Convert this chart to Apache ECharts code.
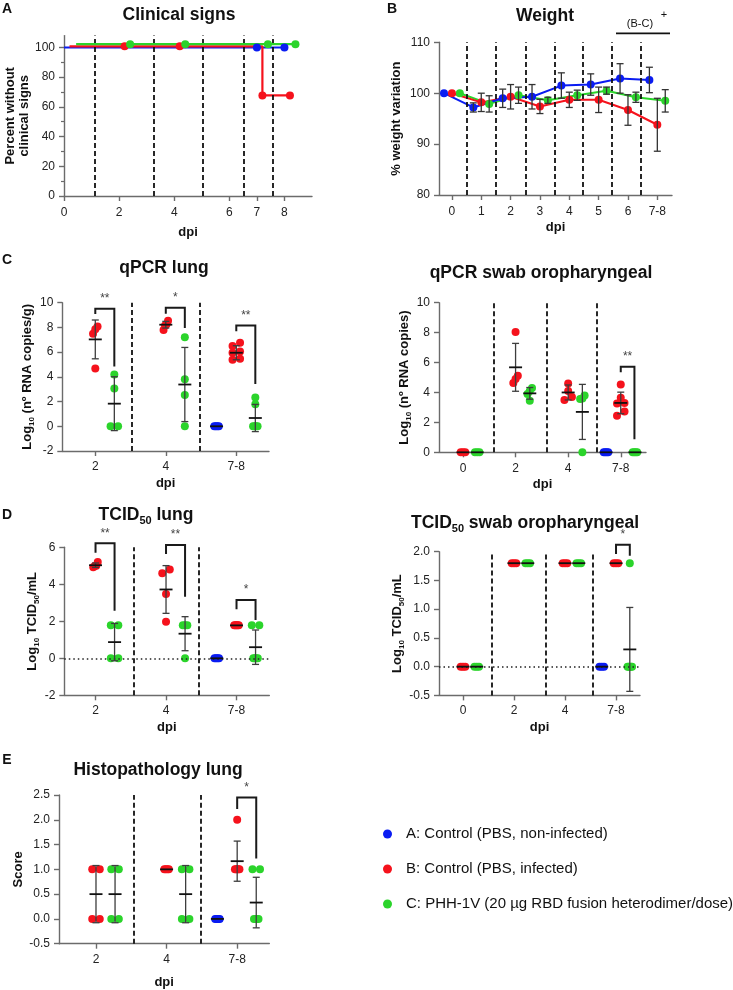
<!DOCTYPE html>
<html>
<head>
<meta charset="utf-8">
<script src="https://cdn.jsdelivr.net/npm/echarts@6/dist/echarts.min.js"></script>
<style>html,body{margin:0;padding:0;background:#fff}#c{width:733px;height:990px}</style>
</head>
<body>
<div id="c"></div>
<script>
// ================= DATA =================
const GROUP_NAMES = ['A: Control (PBS, non-infected)', 'B: Control (PBS, infected)', 'C: PHH-1V (20 µg RBD fusion heterodimer/dose)'];

// ---- Panel A: clinical signs (Kaplan-Meier style)
const clinicalTicks = [0, 2, 4, 6, 7, 8];
const clinicalYTicks = [0, 20, 40, 60, 80, 100];
const clinicalYMinor = [10, 30, 50, 70, 90];
const clinicalSeparators = [1.11, 3.26, 5.04, 6.54, 7.59];
const clinicalCurveA = [[0, 100], [7, 100], [8, 100]];
const clinicalCurveB = [[0.2, 100.8], [7.2, 100.8], [7.2, 67.7], [8.2, 67.7]];
const clinicalCurveC = [[0.44, 102.2], [8.44, 102.2]];
const clinicalDotsA = [[7, 100], [8, 100]];
const clinicalDotsB = [[2.2, 100.8], [4.2, 100.8], [7.2, 67.7], [8.2, 67.7]];
const clinicalDotsC = [[2.4, 102.2], [4.4, 102.2], [7.4, 102.2], [8.4, 102.2]];

// ---- Panel B: weight
const weightDays = ['0', '1', '2', '3', '4', '5', '6', '7-8'];
const weightSeparators = [0.5, 1.5, 2.5, 3.5, 4.47, 5.45, 6.43];
const weightA = [100, 97.2, 99.0, 99.3, 101.5, 101.7, 102.9, 102.6];
const weightSdA = [0, 0.9, 1.8, 2.4, 2.5, 2.1, 2.9, 2.5];
const weightB = [100, 98.2, 99.3, 97.4, 98.7, 98.7, 96.7, 93.8];
const weightSdB = [0, 1.8, 2.4, 1.4, 1.5, 2.5, 3.0, 5.2];
const weightC = [100, 97.9, 99.6, 98.6, 99.6, 100.5, 99.2, 98.5];
const weightSdC = [0, 1.6, 1.6, 0.6, 1.0, 0.7, 1.0, 2.2];

// ---- Panel C left: qPCR lung
const lungDays = ['2', '4', '7-8'];
const qpcrLungA = [[], [], [0, 0, 0, 0]];
const qpcrLungB = [[7.86, 8.08, 7.49, 4.68], [8.54, 8.25, 8.15, 7.8], [6.5, 6.76, 6.05, 5.95, 5.38, 5.46]];
const qpcrLungC = [[4.2, 3.05, 0, 0], [7.2, 3.8, 2.54, 0], [2.32, 1.78, 0, 0, 0, 0]];
const qpcrLungMeanA = [null, null, 0];
const qpcrLungSdA = [0, 0, 0];
const qpcrLungMeanB = [7.03, 8.22, 5.95];
const qpcrLungSdB = [1.57, 0.27, 0.57];
const qpcrLungMeanC = [1.83, 3.38, 0.67];
const qpcrLungSdC = [2.18, 3.0, 1.1];
const qpcrLungSeparators = [0.52, 1.475];
const qpcrLungBrackets = [[0, 0.27, 9.51, 9.08, 4.84], [1, 1.27, 9.6, 9.1, 7.95], [2, 2.27, 8.16, 7.68, 3.43]];
const qpcrLungStars = ['**', '*', '**'];

// ---- Panel C right: qPCR swab oropharyngeal
const swabDays = ['0', '2', '4', '7-8'];
const qpcrSwabA = [[], [], [], [0, 0, 0, 0]];
const qpcrSwabB = [[0, 0, 0], [8.04, 5.12, 4.9, 4.63], [4.6, 4.1, 3.7, 3.5], [4.54, 3.65, 3.3, 3.27, 2.72, 2.45]];
const qpcrSwabC = [[0, 0, 0], [4.3, 4.1, 3.9, 3.45], [3.79, 3.6, 3.56, 0], [0, 0, 0, 0]];
const qpcrSwabMeanA = [null, null, null, 0];
const qpcrSwabSdA = [0, 0, 0, 0];
const qpcrSwabMeanB = [0, 5.68, 4.0, 3.3];
const qpcrSwabSdB = [0, 1.6, 0.5, 0.72];
const qpcrSwabMeanC = [0, 3.94, 2.7, 0];
const qpcrSwabSdC = [0, 0.39, 1.84, 0];
const qpcrSwabSeparators = [0.58, 1.6, 2.54];
const qpcrSwabBrackets = [[3, 3.26, 5.72, 5.35, 0.87]];
const qpcrSwabStars = ['**'];

// ---- Panel D left: TCID50 lung
const tcidLungA = [[], [], [0, 0, 0, 0]];
const tcidLungB = [[4.92, 5.2, 4.99, 5.0], [4.6, 4.8, 3.48, 1.98], [1.78, 1.78, 1.78, 1.78, 1.78]];
const tcidLungC = [[1.78, 1.78, 0, 0], [1.78, 1.78, 1.78, 0], [1.78, 1.78, 0, 0, 0, 0]];
const tcidLungMeanA = [null, null, 0];
const tcidLungSdA = [0, 0, 0];
const tcidLungMeanB = [5.03, 3.72, 1.78];
const tcidLungSdB = [0.12, 1.29, 0];
const tcidLungMeanC = [0.875, 1.33, 0.6];
const tcidLungSdC = [1.01, 0.92, 0.93];
const tcidLungSeparators = [0.536, 1.47];
const tcidLungBrackets = [[0, 0.27, 6.22, 5.71, 2.57], [1, 1.27, 6.12, 5.64, 3.33], [2, 2.27, 3.15, 2.65, 2.07]];
const tcidLungStars = ['**', '**', '*'];

// ---- Panel D right: TCID50 swab oropharyngeal
const tcidSwabA = [[], [], [], [0, 0, 0]];
const tcidSwabB = [[0, 0, 0], [1.8, 1.8, 1.8], [1.8, 1.8, 1.8], [1.8, 1.8, 1.8]];
const tcidSwabC = [[0, 0, 0], [1.8, 1.8, 1.8], [1.8, 1.8, 1.8], [1.8, 0, 0, 0, 0, 0]];
const tcidSwabMeanA = [null, null, null, 0];
const tcidSwabSdA = [0, 0, 0, 0];
const tcidSwabMeanB = [0, 1.8, 1.8, 1.8];
const tcidSwabSdB = [0, 0, 0, 0];
const tcidSwabMeanC = [0, 1.8, 1.8, 0.3];
const tcidSwabSdC = [0, 0, 0, 0.73];
const tcidSwabSeparators = [0.563, 1.627, 2.55];
const tcidSwabBrackets = [[3, 3.27, 2.12, 1.96, 1.93]];
const tcidSwabStars = ['*'];

// ---- Panel E: histopathology lung
const histoA = [[], [], [0, 0, 0, 0]];
const histoB = [[1, 1, 0, 0], [1, 1, 1, 1], [2, 1, 1, 1, 1, 1]];
const histoC = [[1, 1, 0, 0], [1, 1, 0, 0], [1, 1, 0, 0, 0, 0]];
const histoMeanA = [null, null, 0];
const histoSdA = [0, 0, 0];
const histoMeanB = [0.5, 1, 1.165];
const histoSdB = [0.577, 0, 0.405];
const histoMeanC = [0.5, 0.5, 0.33];
const histoSdC = [0.577, 0.577, 0.51];
const histoSeparators = [0.534, 1.483];
const histoBrackets = [[2, 2.27, 2.45, 2.22, 1.22]];
const histoStars = ['*'];

// ================= STYLE / LAYOUT =================
const FONT = '"Liberation Sans", Arial, Helvetica, sans-serif';
const GROUP_COLORS = ['#0a1cf2', '#f5121c', '#2bd42b'];
const GROUP_OFFSETS = [-0.28, 0, 0.27];
const AXIS_COLOR = '#6b6b6b';
const INK = '#111';

const GRIDS = [
  { left: 64, top: 35.6, width: 248, height: 160.4 },     // A
  { left: 439, top: 42.3, width: 233, height: 152.7 },    // B
  { left: 62.3, top: 302.7, width: 206.7, height: 148.3 },// C left
  { left: 439, top: 302.7, width: 207, height: 149.6 },   // C right
  { left: 64.3, top: 547.3, width: 205, height: 148 },    // D left
  { left: 439, top: 551.7, width: 201, height: 143.7 },   // D right
  { left: 59, top: 795, width: 210.3, height: 148.7 }     // E
];
const X_RANGES = [[0, 9], [-0.44, 7.5], [-0.468, 2.464], [-0.456, 3.48], [-0.443, 2.465], [-0.47, 3.47], [-0.524, 2.455]];
const Y_RANGES = [[0, 108], [80, 110], [-2, 10], [0, 10], [-2, 6], [-0.5, 2], [-0.5, 2.5]];

function ticksFrom(min, max, step) {
  const out = [];
  for (let v = min; v <= max + 1e-9; v += step) out.push(Math.round(v * 1000) / 1000);
  return out;
}
function idx(n) { const a = []; for (let i = 0; i < n; i++) a.push(i); return a; }

const subRich = {
  b: { fontFamily: FONT, fontWeight: 'bold', fontSize: 13, lineHeight: 17, color: INK },
  s: { fontFamily: FONT, fontWeight: 'bold', fontSize: 8, lineHeight: 8, verticalAlign: 'bottom', color: INK }
};

function makeX(gi, tickVals, labelFn, nameGap, margin) {
  return {
    type: 'value', gridIndex: gi, min: X_RANGES[gi][0], max: X_RANGES[gi][1],
    name: 'dpi', nameLocation: 'middle', nameGap: nameGap,
    nameTextStyle: { fontFamily: FONT, fontWeight: 'bold', fontSize: 13, color: INK },
    axisLine: { show: true, onZero: false, lineStyle: { color: AXIS_COLOR, width: 1.4 } },
    axisTick: { show: true, length: 5, customValues: tickVals, lineStyle: { color: AXIS_COLOR, width: 1.4 } },
    axisLabel: { customValues: tickVals, formatter: labelFn, margin: margin, fontFamily: FONT, fontSize: 12, color: '#222' },
    splitLine: { show: false }
  };
}
function makeY(gi, tickVals, fmt, name, nameGap, rich) {
  return {
    type: 'value', gridIndex: gi, position: 'left', min: Y_RANGES[gi][0], max: Y_RANGES[gi][1],
    name: name, nameLocation: 'middle', nameGap: nameGap,
    nameTextStyle: rich ? { rich: subRich } : { fontFamily: FONT, fontWeight: 'bold', fontSize: 13, lineHeight: 14, color: INK },
    axisLine: { show: true, onZero: false, lineStyle: { color: AXIS_COLOR, width: 1.4 } },
    axisTick: { show: true, length: 5, customValues: tickVals, lineStyle: { color: AXIS_COLOR, width: 1.4 } },
    axisLabel: { customValues: tickVals, formatter: fmt, margin: 9, fontFamily: FONT, fontSize: 12, color: '#222' },
    splitLine: { show: false }
  };
}

const xAxes = [
  makeX(0, clinicalTicks, v => String(v), 30, 11),
  makeX(1, idx(weightDays.length), v => weightDays[Math.round(v)], 26, 11),
  makeX(2, idx(lungDays.length), v => lungDays[Math.round(v)], 26, 10),
  makeX(3, idx(swabDays.length), v => swabDays[Math.round(v)], 26, 10),
  makeX(4, idx(lungDays.length), v => lungDays[Math.round(v)], 26, 9),
  makeX(5, idx(swabDays.length), v => swabDays[Math.round(v)], 26, 9),
  makeX(6, idx(lungDays.length), v => lungDays[Math.round(v)], 32, 10)
];
const fix1 = v => v.toFixed(1);
const yAxes = [
  makeY(0, clinicalYTicks, v => String(v), 'Percent without\nclinical signs', 31, false),
  makeY(1, ticksFrom(80, 110, 10), v => String(v), '% weight variation', 36, false),
  makeY(2, ticksFrom(-2, 10, 2), v => String(v), '{b|Log}{s|10}{b| (nº RNA copies/g)}', 24, true),
  makeY(3, ticksFrom(0, 10, 2), v => String(v), '{b|Log}{s|10}{b| (nº RNA copies)}', 22, true),
  makeY(4, ticksFrom(-2, 6, 2), v => String(v), '{b|Log}{s|10}{b| TCID}{s|50}{b|/mL}', 22, true),
  makeY(5, ticksFrom(-0.5, 2, 0.5), fix1, '{b|Log}{s|10}{b| TCID}{s|50}{b|/mL}', 32, true),
  makeY(6, ticksFrom(-0.5, 2.5, 0.5), fix1, 'Score', 30, false),
  // minor ticks for panel A
  {
    type: 'value', gridIndex: 0, position: 'left', offset: 0, min: 0, max: 108,
    axisLine: { show: false, onZero: false }, axisLabel: { show: false }, splitLine: { show: false },
    axisTick: { show: true, length: 3, customValues: clinicalYMinor, lineStyle: { color: AXIS_COLOR, width: 1.2 } }
  }
];

// ================= RENDERERS =================
function renderMeanSD(params, api) {
  const x = api.value(0), m = api.value(1), sd = api.value(2);
  const c = api.coord([x, m]);
  const kids = [];
  if (sd > 0) {
    const t = api.coord([x, m + sd]), b = api.coord([x, m - sd]);
    const st = { stroke: '#3d3d3d', lineWidth: 1.3 };
    kids.push({ type: 'line', shape: { x1: c[0], y1: t[1], x2: c[0], y2: b[1] }, style: st });
    kids.push({ type: 'line', shape: { x1: c[0] - 3.5, y1: t[1], x2: c[0] + 3.5, y2: t[1] }, style: st });
    kids.push({ type: 'line', shape: { x1: c[0] - 3.5, y1: b[1], x2: c[0] + 3.5, y2: b[1] }, style: st });
  }
  kids.push({ type: 'line', shape: { x1: c[0] - 6.5, y1: c[1], x2: c[0] + 6.5, y2: c[1] }, style: { stroke: '#111', lineWidth: 1.8 } });
  return { type: 'group', children: kids };
}
function renderErrBar(params, api) {
  const x = api.value(0), m = api.value(1), sd = api.value(2);
  if (!(sd > 0)) return { type: 'group', children: [] };
  const c = api.coord([x, m]);
  const t = api.coord([x, m + sd]), b = api.coord([x, m - sd]);
  const st = { stroke: '#333', lineWidth: 1.3 };
  return { type: 'group', children: [
    { type: 'line', shape: { x1: c[0], y1: t[1], x2: c[0], y2: b[1] }, style: st },
    { type: 'line', shape: { x1: c[0] - 3.5, y1: t[1], x2: c[0] + 3.5, y2: t[1] }, style: st },
    { type: 'line', shape: { x1: c[0] - 3.5, y1: b[1], x2: c[0] + 3.5, y2: b[1] }, style: st }
  ] };
}
function makeBracketRender(labels) {
  return function (params, api) {
    const x1 = api.value(0), x2 = api.value(1), yt = api.value(2), yl = api.value(3), yr = api.value(4);
    const a = api.coord([x1, yl]), b = api.coord([x1, yt]), c = api.coord([x2, yt]), d = api.coord([x2, yr]);
    return { type: 'group', children: [
      { type: 'polyline', shape: { points: [a, b, c, d] }, style: { stroke: '#1a1a1a', lineWidth: 2, fill: null } },
      { type: 'text', x: (b[0] + c[0]) / 2, y: b[1] - 4,
        style: { text: labels[params.dataIndex], font: '12px ' + FONT, fill: '#444',
                 textAlign: 'center', textVerticalAlign: 'bottom', align: 'center', verticalAlign: 'bottom' } }
    ] };
  };
}

function spreadPoints(vals, center, pxX, pxY) {
  const sorted = vals.slice().sort((a, b) => a - b);
  const clusters = [];
  sorted.forEach(v => {
    const last = clusters[clusters.length - 1];
    if (last && Math.abs(v - last[last.length - 1]) * pxY < 5) last.push(v); else clusters.push([v]);
  });
  const out = [];
  clusters.forEach(cl => {
    const n = cl.length;
    const span = n === 1 ? 0 : (n === 2 ? 7.5 : 4.5);
    cl.forEach((v, k) => {
      const dx = n === 1 ? 0 : (k / (n - 1) - 0.5) * span;
      out.push([center + dx / pxX, v]);
    });
  });
  return out;
}

function sepLine(gi, seps, zeroLine) {
  const data = seps.map(x => ({ xAxis: x, lineStyle: { type: [5, 3], color: '#111', width: 1.8 } }));
  if (zeroLine) data.push({ yAxis: 0, lineStyle: { type: [1.5, 3], color: '#222', width: 1.5 } });
  return {
    type: 'line', xAxisIndex: gi, yAxisIndex: gi, data: [], silent: true, z: 1,
    markLine: { silent: true, symbol: ['none', 'none'], label: { show: false }, animation: false, emphasis: { disabled: true }, data: data }
  };
}

const series = [];

// ---- Panel A
series.push(sepLine(0, clinicalSeparators, false));
[clinicalCurveA, clinicalCurveB, clinicalCurveC].forEach((curve, g) => {
  series.push({ type: 'line', name: GROUP_NAMES[g], xAxisIndex: 0, yAxisIndex: 0, data: curve, symbol: 'none',
    lineStyle: { color: GROUP_COLORS[g], width: 2.2 }, itemStyle: { color: GROUP_COLORS[g] }, z: 3 + g });
});
[clinicalDotsA, clinicalDotsB, clinicalDotsC].forEach((dots, g) => {
  series.push({ type: 'scatter', name: GROUP_NAMES[g], xAxisIndex: 0, yAxisIndex: 0, data: dots, symbolSize: 8,
    itemStyle: { color: GROUP_COLORS[g], opacity: 1 }, z: 6 });
});

// ---- Panel B
series.push(sepLine(1, weightSeparators, false));
const weightSets = [[weightA, weightSdA], [weightB, weightSdB], [weightC, weightSdC]];
[2, 1, 0].forEach(g => {
  const off = g === 0 ? -0.27 : (g === 1 ? 0 : 0.27);
  const [vals, sds] = weightSets[g];
  series.push({ type: 'line', name: GROUP_NAMES[g], xAxisIndex: 1, yAxisIndex: 1,
    data: vals.map((v, i) => [i + off, v]), symbol: 'circle', symbolSize: 8, showSymbol: true,
    lineStyle: { color: GROUP_COLORS[g], width: 2 }, itemStyle: { color: GROUP_COLORS[g], opacity: 1 }, z: 3 });
  series.push({ type: 'custom', name: 'err', xAxisIndex: 1, yAxisIndex: 1, renderItem: renderErrBar,
    data: vals.map((v, i) => [i + off, v, sds[i]]), z: 5, clip: false, silent: true });
});

// ---- scatter panels
function buildPanel(gi, groups, means, sds, seps, zeroLine, brackets, stars) {
  const g = GRIDS[gi];
  const pxX = g.width / (X_RANGES[gi][1] - X_RANGES[gi][0]);
  const pxY = g.height / (Y_RANGES[gi][1] - Y_RANGES[gi][0]);
  series.push(sepLine(gi, seps, zeroLine));
  groups.forEach((pts, k) => {
    const data = [];
    pts.forEach((vals, ci) => { spreadPoints(vals, ci + GROUP_OFFSETS[k], pxX, pxY).forEach(p => data.push(p)); });
    series.push({ type: 'scatter', name: GROUP_NAMES[k], xAxisIndex: gi, yAxisIndex: gi, data: data, symbolSize: 8,
      itemStyle: { color: GROUP_COLORS[k], opacity: 1 }, z: 3 });
  });
  groups.forEach((pts, k) => {
    const md = [];
    means[k].forEach((m, ci) => { if (m !== null) md.push([ci + GROUP_OFFSETS[k], m, sds[k][ci]]); });
    series.push({ type: 'custom', name: 'meanSD', xAxisIndex: gi, yAxisIndex: gi, renderItem: renderMeanSD,
      data: md, z: 5, clip: false, silent: true });
  });
  series.push({ type: 'custom', name: 'sig', xAxisIndex: gi, yAxisIndex: gi, renderItem: makeBracketRender(stars),
    data: brackets, z: 6, clip: false, silent: true });
}

buildPanel(2, [qpcrLungA, qpcrLungB, qpcrLungC], [qpcrLungMeanA, qpcrLungMeanB, qpcrLungMeanC],
  [qpcrLungSdA, qpcrLungSdB, qpcrLungSdC], qpcrLungSeparators, false, qpcrLungBrackets, qpcrLungStars);
buildPanel(3, [qpcrSwabA, qpcrSwabB, qpcrSwabC], [qpcrSwabMeanA, qpcrSwabMeanB, qpcrSwabMeanC],
  [qpcrSwabSdA, qpcrSwabSdB, qpcrSwabSdC], qpcrSwabSeparators, false, qpcrSwabBrackets, qpcrSwabStars);
buildPanel(4, [tcidLungA, tcidLungB, tcidLungC], [tcidLungMeanA, tcidLungMeanB, tcidLungMeanC],
  [tcidLungSdA, tcidLungSdB, tcidLungSdC], tcidLungSeparators, true, tcidLungBrackets, tcidLungStars);
buildPanel(5, [tcidSwabA, tcidSwabB, tcidSwabC], [tcidSwabMeanA, tcidSwabMeanB, tcidSwabMeanC],
  [tcidSwabSdA, tcidSwabSdB, tcidSwabSdC], tcidSwabSeparators, true, tcidSwabBrackets, tcidSwabStars);
buildPanel(6, [histoA, histoB, histoC], [histoMeanA, histoMeanB, histoMeanC],
  [histoSdA, histoSdB, histoSdC], histoSeparators, false, histoBrackets, histoStars);

// ================= TEXT =================
const titleRich = {
  t: { fontFamily: FONT, fontWeight: 'bold', fontSize: 17.5, lineHeight: 22, fill: INK },
  s: { fontFamily: FONT, fontWeight: 'bold', fontSize: 11, lineHeight: 11, verticalAlign: 'bottom', fill: INK }
};
function txt(x, y, text, font, extra) {
  return Object.assign({ type: 'text', x: x, y: y, silent: true,
    style: { text: text, font: font, fill: INK, textAlign: 'center', textVerticalAlign: 'middle', align: 'center', verticalAlign: 'middle' } }, extra || {});
}
function richTitle(x, y, text) {
  return { type: 'text', x: x, y: y, silent: true,
    style: { text: text, rich: titleRich, fill: INK, textAlign: 'center', textVerticalAlign: 'middle', align: 'center', verticalAlign: 'middle' } };
}
const LETTER = 'bold 14px ' + FONT;
const graphic = [
  txt(7, 9, 'A', LETTER), richTitle(179, 15, '{t|Clinical signs}'),
  txt(392, 9, 'B', LETTER), richTitle(545, 16, '{t|Weight}'),
  txt(640, 24, '(B-C)', '11px ' + FONT), txt(664, 15, '+', '11px ' + FONT),
  { type: 'line', silent: true, shape: { x1: 616, y1: 33.3, x2: 670, y2: 33.3 }, style: { stroke: INK, lineWidth: 1.8 } },
  txt(7, 260, 'C', LETTER), richTitle(164, 268, '{t|qPCR lung}'),
  richTitle(541, 273, '{t|qPCR swab oropharyngeal}'),
  txt(7, 515, 'D', LETTER), richTitle(146, 515, '{t|TCID}{s|50}{t| lung}'),
  richTitle(525, 523, '{t|TCID}{s|50}{t| swab oropharyngeal}'),
  txt(7, 760, 'E', LETTER), richTitle(158, 770, '{t|Histopathology lung}')
];

const option = {
  animation: false,
  textStyle: { fontFamily: FONT },
  grid: GRIDS,
  xAxis: xAxes,
  yAxis: yAxes,
  legend: {
    data: GROUP_NAMES, orient: 'vertical', left: 378, top: 821, icon: 'circle',
    itemWidth: 9, itemHeight: 9, itemGap: 19, selectedMode: false,
    textStyle: { fontFamily: FONT, fontSize: 15, color: INK, lineHeight: 16, padding: [0, 0, 0, 9] }
  },
  graphic: graphic,
  series: series
};

const chart = echarts.init(document.getElementById('c'), null, { renderer: 'canvas' });
chart.setOption(option);
</script>
</body>
</html>
